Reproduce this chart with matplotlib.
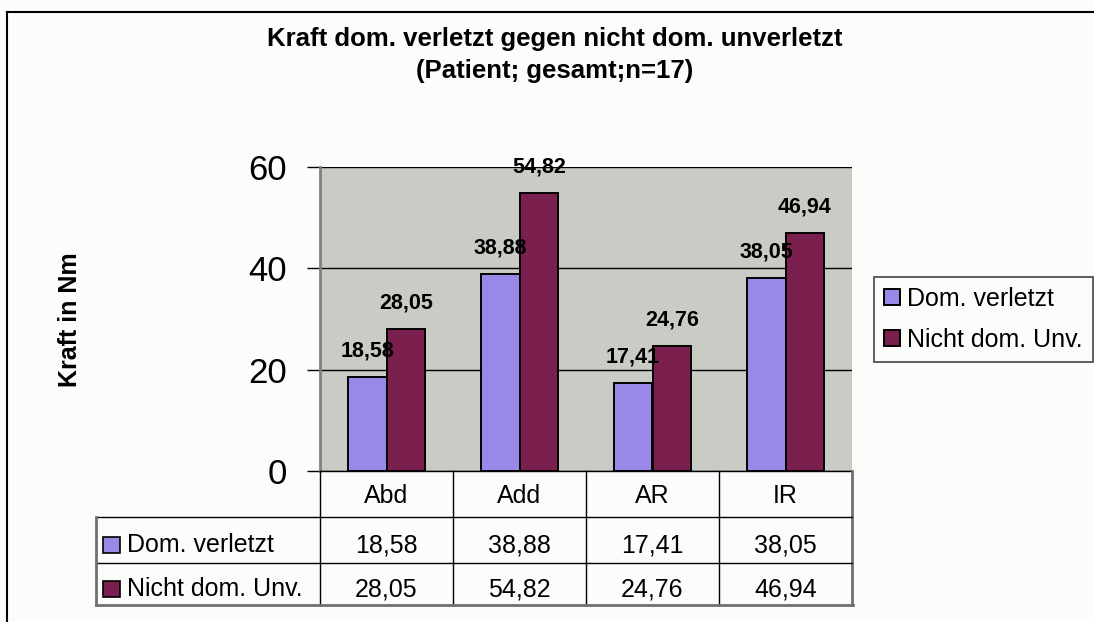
import numpy as np
import matplotlib
matplotlib.use("Agg")
import matplotlib.pyplot as plt
from matplotlib.lines import Line2D
from matplotlib.patches import Rectangle
from matplotlib.transforms import blended_transform_factory

# ---- data ----
categories = ["Abd", "Add", "AR", "IR"]
series_names = ["Dom. verletzt", "Nicht dom. Unv."]
dom_verletzt = [18.58, 38.88, 17.41, 38.05]
nicht_dom_unv = [28.05, 54.82, 24.76, 46.94]
title_lines = ["Kraft dom. verletzt gegen nicht dom. unverletzt", "(Patient; gesamt;n=17)"]
y_label = "Kraft in Nm"
y_ticks = [0, 20, 40, 60]

def fmt(v):
    return f"{v:.2f}".replace(".", ",")

plt.rcParams['font.family'] = ['Liberation Sans', 'DejaVu Sans']

W, H = 1094, 622
fig = plt.figure(figsize=(W / 100, H / 100), dpi=100)
fig.patch.set_facecolor('#FCFCFA')

def fx(px):
    return px / W

def fy(py):
    return 1 - py / H

# outer border (cut at right/bottom)
fig.add_artist(Line2D([fx(7), fx(7)], [fy(12), fy(625)], color='black', lw=1.5))
fig.add_artist(Line2D([fx(7), fx(1100)], [fy(12), fy(12)], color='black', lw=1.5))

col1 = '#9A88E8'
col2 = '#7A1F4E'
bg = '#C9CBC5'

ax = fig.add_axes([fx(320), fy(471), (852 - 320) / W, (471 - 167) / H])
ax.set_facecolor(bg)
x = np.arange(len(categories))
bw = 0.293
b1 = ax.bar(x - bw / 2, dom_verletzt, bw, color=col1, edgecolor='black', lw=1.4,
            label=series_names[0], zorder=3)
b2 = ax.bar(x + bw / 2, nicht_dom_unv, bw, color=col2, edgecolor='black', lw=1.4,
            label=series_names[1], zorder=3)
ax.set_xlim(-0.5, len(categories) - 0.5)
ax.set_ylim(y_ticks[0], y_ticks[-1])
ax.set_yticks(y_ticks)
ax.set_yticklabels([str(t) for t in y_ticks], fontsize=25)
ax.tick_params(axis='y', length=9.5, width=1, color='black', pad=14)
ax.set_xticks([])
ax.yaxis.grid(True, color='black', lw=1)
ax.set_axisbelow(True)
for s in ['top', 'right']:
    ax.spines[s].set_visible(False)
ax.spines['bottom'].set_color('black')
ax.spines['bottom'].set_linewidth(1)
ax.spines['left'].set_color('#808080')
ax.spines['left'].set_linewidth(2)

for bars, vals in ((b1, dom_verletzt), (b2, nicht_dom_unv)):
    for rect, v in zip(bars, vals):
        ax.annotate(fmt(v), (rect.get_x() + rect.get_width() / 2, v),
                    xytext=(0, 18.7), textcoords='offset points',
                    ha='center', va='center', fontsize=15.5, fontweight='bold',
                    zorder=5, annotation_clip=False)

# title
fig.text(fx(555), fy(46), title_lines[0], ha='center', va='baseline',
         fontsize=18.5, fontweight='bold')
fig.text(fx(555), fy(78), title_lines[1], ha='center', va='baseline',
         fontsize=18.5, fontweight='bold')

# y label
fig.text(fx(70), fy(320), y_label, rotation=90, ha='center', va='center',
         fontsize=18, fontweight='bold')

# legend
leg = fig.legend(handles=[b1, b2], labels=series_names, loc='upper left',
                 bbox_to_anchor=(fx(874), fy(277)), fontsize=18, frameon=True,
                 fancybox=False, edgecolor='#444444', facecolor='#FCFCFA',
                 handlelength=0.62, handleheight=0.62, handletextpad=0.3,
                 labelspacing=0.68, borderpad=0.4, borderaxespad=0)
leg.get_frame().set_linewidth(1.2)
leg.get_frame().set_alpha(None)

# data table
trans = blended_transform_factory(ax.transData, fig.transFigure)
bounds = np.arange(len(categories) + 1) - 0.5
for i, b in enumerate(bounds):
    last = i == len(bounds) - 1
    fig.add_artist(Line2D([b, b], [fy(471), fy(605)], transform=trans,
                          color='#707070' if last else 'black',
                          lw=2 if last else 1))
fig.add_artist(Line2D([fx(96), fx(852)], [fy(517), fy(517)], color='black', lw=1))
fig.add_artist(Line2D([fx(96), fx(852)], [fy(563), fy(563)], color='black', lw=1))
fig.add_artist(Line2D([fx(96), fx(853)], [fy(605), fy(605)], color='#707070', lw=2))
fig.add_artist(Line2D([fx(96), fx(96)], [fy(517), fy(605)], color='#707070', lw=2))

for i, c in enumerate(categories):
    fig.text(i, fy(503), c, transform=trans, ha='center', va='baseline', fontsize=18)
row_baselines = [552, 596]
for vals, base in zip((dom_verletzt, nicht_dom_unv), row_baselines):
    for i, v in enumerate(vals):
        fig.text(i, fy(base), fmt(v), transform=trans, ha='center', va='baseline',
                 fontsize=18)
for name, col, base in zip(series_names, (col1, col2), row_baselines):
    fig.add_artist(Rectangle((fx(103), fy(base + 1)), 17 / W, 16 / H,
                             facecolor=col, edgecolor='black', lw=1.2))
    fig.text(fx(127), fy(base), name, ha='left', va='baseline', fontsize=18)

fig.savefig('out.png', dpi=100, facecolor=fig.get_facecolor())
